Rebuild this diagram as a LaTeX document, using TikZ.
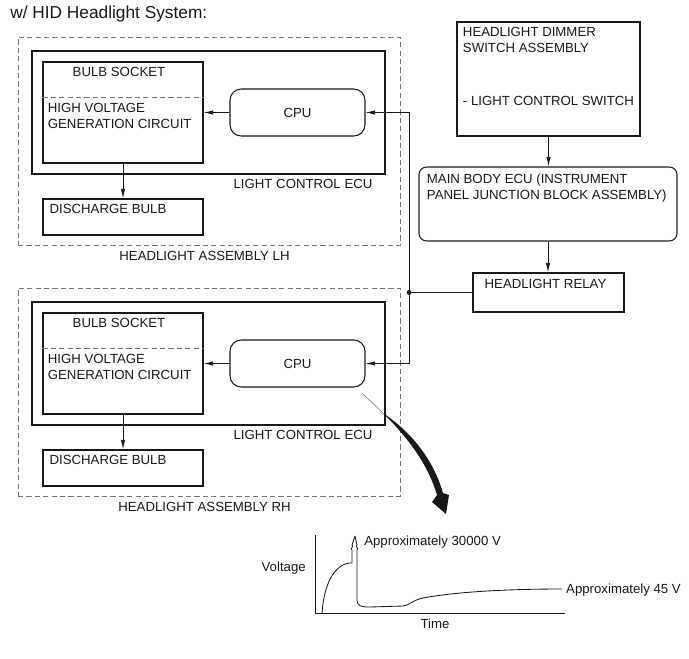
\documentclass[tikz,border=0pt]{standalone}
\usepackage{fontspec}
\setmainfont{Liberation Sans}
\usetikzlibrary{arrows.meta,positioning,calc}
\definecolor{ink}{RGB}{25,25,25}
\definecolor{dashgray}{RGB}{120,120,120}
\tikzset{
  >={Latex[length=2.4mm,width=1.1mm]},
  asm/.style={draw=dashgray,line width=0.6pt,dash pattern=on 1.3mm off 0.8mm},
  box/.style={draw=ink,line width=0.75pt,inner sep=0pt},
  rbox/.style={box,rounded corners=#1},
  rbox/.default=3pt,
  tag/.style={font=\fontsize{9.4}{11.4}\selectfont,text=ink,inner sep=0pt,align=left},
  wire/.style={draw=ink,line width=0.6pt},
}
\begin{document}
\begin{tikzpicture}
  \useasboundingbox (0,0) rectangle (17.225,-16.475);
  \node[tag,anchor=base west,font=\fontsize{12.3}{14.8}\selectfont] (title) at (0.25,-0.4625) {w/ HID Headlight System:};

  % the two headlight assemblies
  \foreach \side/\dy in {LH/0,RH/-6.275}{
    \begin{scope}[yshift=\dy cm]
      \node[asm,minimum width=9.55cm,minimum height=5.2cm] (asm\side) at (5.225,-3.525) {};
      \node[box,minimum width=8.825cm,minimum height=3.075cm] (ecu\side) at (5.2125,-2.8125) {};
      \node[box,minimum width=4cm,minimum height=2.525cm] (sock\side) at (3.075,-2.8125) {};
      \draw[asm] ($(sock\side.north west)+(0,-0.9)$) -- ($(sock\side.north east)+(0,-0.9)$);
      \node[tag,anchor=base] (socklbl\side) at (2.975,-1.9175) {BULB SOCKET};
      \node[tag,anchor=base west] (hv\side) at (1.19,-3.2075) {HIGH VOLTAGE\\GENERATION CIRCUIT};
      \node[rbox=8pt,tag,minimum width=3.375cm,minimum height=1.175cm] (cpu\side) at (7.4375,-2.8125) {CPU};
      \node[box,minimum width=4cm,minimum height=0.9cm] (bulb\side) at (3.075,-5.425) {};
      \node[tag,anchor=base west] (bulblbl\side) at (1.2325,-5.3325) {DISCHARGE BULB};
      \node[tag,anchor=base east] (eculbl\side) at (9.3175,-4.7075) {LIGHT CONTROL ECU};
      \node[tag,anchor=base] (asmlbl\side) at (5.1125,-6.5) {HEADLIGHT ASSEMBLY \side};
      \draw[wire,->] (cpu\side) -- (sock\side);
      \draw[wire,->] (sock\side) -- (bulb\side);
    \end{scope}
  }

  % switch, body ECU and relay
  \node[box,minimum width=4.575cm,minimum height=2.85cm] (dimmer) at (13.7125,-1.975) {};
  \node[tag,anchor=base west] (dimmerlbl) at (11.5675,-1.3175) {HEADLIGHT DIMMER\\SWITCH ASSEMBLY};
  \node[tag,anchor=base west] (switchlbl) at (11.5675,-2.625) {- LIGHT CONTROL SWITCH};
  \node[rbox=5.5pt,minimum width=6.45cm,minimum height=1.85cm] (bodyecu) at (13.7,-5.1) {};
  \node[tag,anchor=base west] (bodylbl) at (10.6675,-4.9825) {MAIN BODY ECU (INSTRUMENT\\PANEL JUNCTION BLOCK ASSEMBLY)};
  \node[box,minimum width=3.775cm,minimum height=0.975cm] (relay) at (13.7125,-7.3125) {};
  \node[tag,anchor=base] (relaylbl) at (13.6375,-7.2075) {HEADLIGHT RELAY};
  \coordinate (junc) at (10.225,-7.3125);
  \fill[ink] (junc) circle (0.06);
  \draw[wire,->] (dimmer.south) -- (dimmer.south |- bodyecu.north);
  \draw[wire,->] (bodyecu.south) -- (bodyecu.south |- relay.north);
  \draw[wire] (relay.west) -- (junc);
  \draw[wire,->] (junc) |- (cpuLH.east);
  \draw[wire,->] (junc) |- (cpuRH.east);

  % big arrow down to the waveform
  \draw[dashgray,line width=0.4pt] (9.05,-9.825) -- (9.575,-10.325);
  \fill[ink] (9.575,-10.325) .. controls (10.25,-11.0) and (10.7,-11.625) .. (10.925,-12.375)
    -- (10.8,-12.55) -- (11.15,-12.85) -- (11.225,-12.375) -- (11.075,-12.325)
    .. controls (10.85,-11.55) and (10.35,-10.85) .. (9.575,-10.325) -- cycle;

  % waveform
  \begin{scope}[shift={(7.875,-15.325)},x=0.025cm,y=0.025cm]
    \draw[wire] (0,78) -- (0,0) -- (250,0);
    \draw[wire,line join=round] (7,0) .. controls (9,30) and (20,48) .. (34,50) -- (37,50) -- (37,63)
      .. controls (35,65) and (39,66) .. (37,68) -- (40,77) -- (42,68)
      .. controls (40,66) and (44,65) .. (42,63) -- (42,13)
      .. controls (42,7) and (46,6) .. (55,6) -- (88,7)
      .. controls (95,8) and (98,13) .. (108,15)
      .. controls (140,21) and (190,24) .. (247,24);
    \node[tag,anchor=base east] (vlbl) at (-9,41.3) {Voltage};
    \node[tag,anchor=base] (tlbl) at (120,-15.3) {Time};
    \node[tag,anchor=base west] (peaklbl) at (49,67.3) {Approximately 30000 V};
    \node[tag,anchor=base west] (steadylbl) at (251,19.7) {Approximately 45 V};
  \end{scope}
\end{tikzpicture}
\end{document}
